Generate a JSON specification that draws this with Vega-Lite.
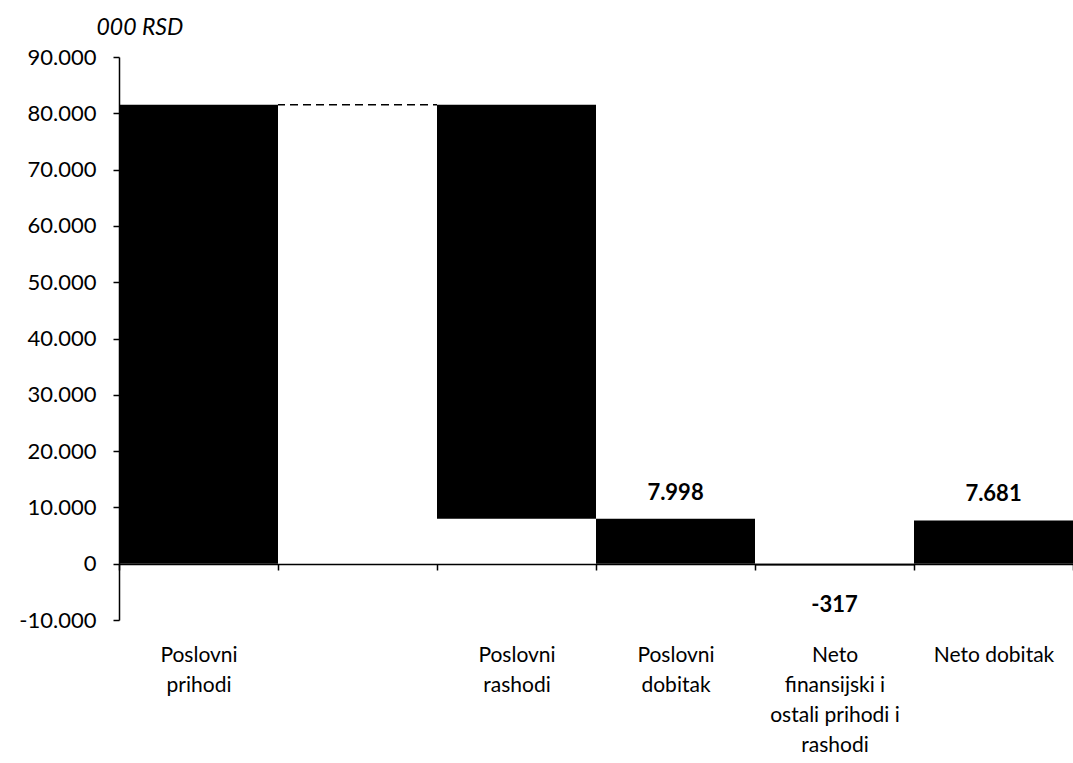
{
  "$schema": "https://vega.github.io/schema/vega-lite/v6.json",
  "width": 954,
  "height": 563,
  "autosize": {"type": "none"},
  "padding": {"left": 119, "top": 57, "right": 0, "bottom": 143},
  "background": "white",
  "config": {
    "view": {"stroke": null},
    "font": "Lato",
    "locale": {"number": {"decimal": ",", "thousands": ".", "grouping": [3], "currency": ["", " RSD"], "minus": "-"}},
    "axis": {"labelFont": "Lato", "titleFont": "Lato", "labelColor": "black", "titleColor": "black", "grid": false}
  },
  "data": {
    "values": [
      {"kat": "Poslovni prihodi", "red": 1, "pocetak": 0, "kraj": 81500, "vrednost": 81500, "oznaka": 0},
      {"kat": " ", "red": 2, "pocetak": 81500, "kraj": 81500, "vrednost": 0, "oznaka": 0},
      {"kat": "Poslovni rashodi", "red": 3, "pocetak": 7998, "kraj": 81500, "vrednost": -73502, "oznaka": 0},
      {"kat": "Poslovni dobitak", "red": 4, "pocetak": 0, "kraj": 7998, "vrednost": 7998, "oznaka": 1},
      {"kat": "Neto finansijski i ostali prihodi i rashodi", "red": 5, "pocetak": -317, "kraj": 0, "vrednost": -317, "oznaka": 1},
      {"kat": "Neto dobitak", "red": 6, "pocetak": 0, "kraj": 7681, "vrednost": 7681, "oznaka": 1}
    ]
  },
  "encoding": {
    "x": {
      "field": "kat",
      "type": "nominal",
      "sort": {"field": "red"},
      "scale": {"paddingInner": 0, "paddingOuter": 0},
      "axis": {
        "title": null,
        "labelAngle": 0,
        "labelFontSize": 21,
        "labelPadding": 74,
        "labelBaseline": "top",
        "labelLineHeight": 30,
        "labelLimit": 300,
        "offset": -56,
        "domainColor": "black",
        "domainWidth": 1.5,
        "tickColor": "black",
        "tickWidth": 1.5,
        "tickSize": 6,
        "tickBand": "extent",
        "labelExpr": "datum.label == 'Poslovni prihodi' ? ['Poslovni', 'prihodi'] : datum.label == 'Poslovni rashodi' ? ['Poslovni', 'rashodi'] : datum.label == 'Poslovni dobitak' ? ['Poslovni', 'dobitak'] : datum.label == 'Neto finansijski i ostali prihodi i rashodi' ? ['Neto', 'finansijski i', 'ostali prihodi i', 'rashodi'] : datum.label"
      }
    }
  },
  "layer": [
    {
      "transform": [{"filter": "datum.kat != ' '"}],
      "mark": {"type": "bar", "color": "black"},
      "encoding": {
        "y": {
          "field": "pocetak",
          "type": "quantitative",
          "scale": {"domain": [-10000, 90000], "nice": false},
          "axis": {
            "title": "000 RSD",
            "titleAngle": 0,
            "titleAlign": "left",
            "titleBaseline": "bottom",
            "titleX": -23,
            "titleY": -18,
            "titleFontSize": 23,
            "titleFontStyle": "italic",
            "titleFontWeight": "normal",
            "labelFontSize": 22,
            "labelPadding": 17,
            "format": ",d",
            "values": [-10000, 0, 10000, 20000, 30000, 40000, 50000, 60000, 70000, 80000, 90000],
            "domainColor": "black",
            "domainWidth": 1.5,
            "tickColor": "black",
            "tickWidth": 1.5,
            "tickSize": 6
          }
        },
        "y2": {"field": "kraj"}
      }
    },
    {
      "transform": [{"filter": "datum.kat == ' '"}],
      "mark": {"type": "bar", "fill": null, "stroke": "black", "strokeWidth": 1.5, "strokeDash": [7, 6]},
      "encoding": {
        "y": {"field": "pocetak", "type": "quantitative"},
        "y2": {"field": "kraj"}
      }
    },
    {
      "transform": [{"filter": "datum.oznaka == 1 && datum.vrednost > 0"}],
      "mark": {"type": "text", "fontSize": 22, "fontWeight": "bold", "baseline": "bottom", "dy": -14, "color": "black"},
      "encoding": {
        "y": {"field": "kraj", "type": "quantitative"},
        "text": {"field": "vrednost", "type": "quantitative", "format": ",d"}
      }
    },
    {
      "transform": [{"filter": "datum.oznaka == 1 && datum.vrednost < 0"}],
      "mark": {"type": "text", "fontSize": 22, "fontWeight": "bold", "baseline": "middle", "dy": 40, "color": "black"},
      "encoding": {
        "y": {"field": "pocetak", "type": "quantitative"},
        "text": {"field": "vrednost", "type": "quantitative", "format": ",d"}
      }
    }
  ]
}
